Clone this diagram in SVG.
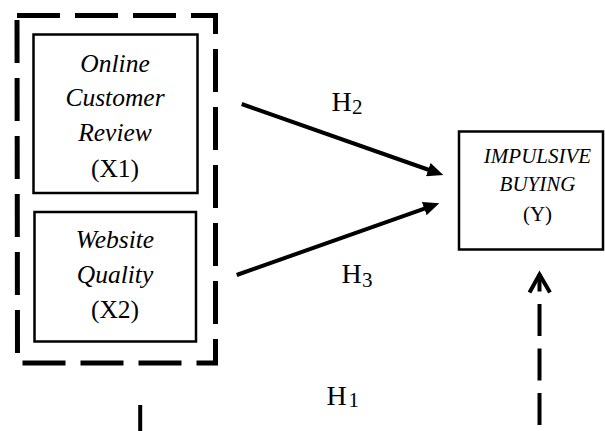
<svg xmlns="http://www.w3.org/2000/svg" width="605" height="431" viewBox="0 0 605 431">
<style>
.box{fill:#fff;stroke:#000;stroke-width:2.5}
.t{font-family:"Liberation Serif","Times New Roman",serif;fill:#000;text-anchor:middle}
.i{font-style:italic}
.h{font-family:"Liberation Serif","Times New Roman",serif;fill:#000;font-size:28px}
.sub{font-size:21px}
.conn{fill:none;stroke:#000;stroke-width:4}
</style>
<defs>
<marker id="ah" markerUnits="userSpaceOnUse" markerWidth="18" markerHeight="14" refX="4" refY="7" orient="auto">
<path d="M0,0 L16,7 L0,14 z" fill="#000"/>
</marker>
</defs>
<g id="group-X">
<path d="M17,15.5 H215.5 V363 H17.5 Z" fill="none" stroke="#000" stroke-width="5" stroke-dasharray="43 15"/>
</g>
<g id="node-X1">
<rect class="box" x="33.5" y="34.5" width="164" height="158.5"/>
<text class="t i" x="115" y="72" font-size="25.5">Online</text>
<text class="t i" x="115" y="106" font-size="25.5">Customer</text>
<text class="t i" x="115" y="141" font-size="25.5">Review</text>
<text class="t" x="115" y="177" font-size="25.5">(X1)</text>
</g>
<g id="node-X2">
<rect class="box" x="34.5" y="212" width="161.5" height="129.5"/>
<text class="t i" x="115" y="248" font-size="25.5">Website</text>
<text class="t i" x="115" y="283" font-size="25.5">Quality</text>
<text class="t" x="115" y="318" font-size="25.5">(X2)</text>
</g>
<g id="node-Y">
<rect class="box" x="459" y="131.5" width="144" height="118"/>
<text class="t i" x="537.5" y="163" font-size="21">IMPULSIVE</text>
<text class="t i" x="537.5" y="191" font-size="21">BUYING</text>
<text class="t" x="537.5" y="221" font-size="21">(Y)</text>
</g>
<g id="connectors">
<line class="conn" x1="241.7" y1="104" x2="432" y2="171" marker-end="url(#ah)"/>
<line class="conn" x1="236.7" y1="275" x2="428" y2="207.3" marker-end="url(#ah)"/>
<path class="conn" d="M539.5,425 V274" stroke-dasharray="32 12.5"/>
<polyline class="conn" points="529.5,292.5 539.5,274.5 550,292.5" stroke-width="4.5"/>
<line class="conn" x1="140.2" y1="405" x2="140.2" y2="431"/>
<text class="h" x="331.5" y="111">H<tspan class="sub" x="352" y="114">2</tspan></text>
<text class="h" x="341.5" y="283">H<tspan class="sub" x="362" y="287">3</tspan></text>
<text class="h" x="326.5" y="405">H<tspan class="sub" x="348.5" y="407">1</tspan></text>
</g>
</svg>
